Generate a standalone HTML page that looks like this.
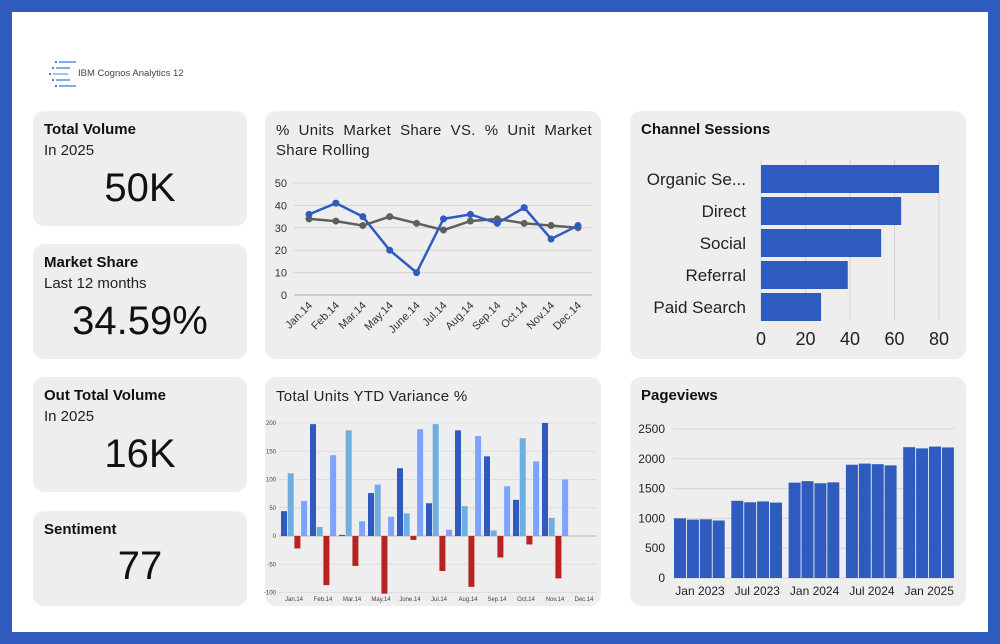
<!DOCTYPE html>
<html><head><meta charset="utf-8"><style>
body{margin:0;width:1000px;height:644px;overflow:hidden;background:#2f5bbf;font-family:"Liberation Sans",sans-serif}
#frame{position:absolute;left:12px;top:12px;width:976px;height:620px;background:#fff}
.card{position:absolute;background:#eeeeee;border-radius:11px}
.t{position:absolute;left:11px;top:10px;font-weight:bold;font-size:15px;color:#111}
.s{position:absolute;left:11px;top:31px;font-size:15px;color:#222}
.big{position:absolute;left:0;right:0;text-align:center;font-size:40px;color:#111;font-weight:300}
.ct{position:absolute;left:11px;top:10px;font-size:15px;color:#222;line-height:20px;letter-spacing:.3px}
#ov{position:absolute;left:0;top:0}
</style></head><body>
<div id="frame"></div>
<div style="position:absolute;left:48px;top:60px;width:150px;height:30px">
 <svg width="40" height="30" style="position:absolute;left:0;top:0">
  <circle cx="8" cy="2" r="1" fill="#2b4bb5"/><line x1="11" y1="2" x2="28" y2="2" stroke="#5a8de0" stroke-width="1.5"/>
  <circle cx="5" cy="8" r="1" fill="#2b4bb5"/><line x1="8" y1="8" x2="22" y2="8" stroke="#5a8de0" stroke-width="1.5"/>
  <circle cx="2" cy="14" r="1" fill="#2b4bb5"/><line x1="5" y1="14" x2="20" y2="14" stroke="#7ab0e0" stroke-width="1.5"/>
  <circle cx="5" cy="20" r="1" fill="#2b4bb5"/><line x1="8" y1="20" x2="22" y2="20" stroke="#5a8de0" stroke-width="1.5"/>
  <circle cx="8" cy="26" r="1" fill="#2b4bb5"/><line x1="11" y1="26" x2="28" y2="26" stroke="#5a8de0" stroke-width="1.5"/>
 </svg>
 <span style="position:absolute;left:30px;top:8px;font-size:9.5px;color:#444;white-space:nowrap">IBM Cognos Analytics 12</span>
</div>

<div class="card" style="left:33px;top:111px;width:214px;height:115px">
 <div class="t">Total Volume</div><div class="s">In 2025</div><div class="big" style="top:55px">50K</div></div>
<div class="card" style="left:33px;top:244px;width:214px;height:115px">
 <div class="t">Market Share</div><div class="s">Last 12 months</div><div class="big" style="top:55px">34.59%</div></div>
<div class="card" style="left:33px;top:377px;width:214px;height:115px">
 <div class="t">Out Total Volume</div><div class="s">In 2025</div><div class="big" style="top:55px">16K</div></div>
<div class="card" style="left:33px;top:511px;width:214px;height:95px">
 <div class="t">Sentiment</div><div class="big" style="top:33px">77</div></div>

<div class="card" style="left:265px;top:111px;width:336px;height:248px">
 <div class="ct" style="width:316px;text-align:justify;text-align-last:justify">% Units Market Share VS. % Unit Market</div>
 <div class="ct" style="top:30px">Share Rolling</div></div>
<div class="card" style="left:265px;top:377px;width:336px;height:229px">
 <div class="ct">Total Units YTD Variance %</div></div>
<div class="card" style="left:630px;top:111px;width:336px;height:248px">
 <div class="t">Channel Sessions</div></div>
<div class="card" style="left:630px;top:377px;width:336px;height:229px">
 <div class="t">Pageviews</div></div>

<svg id="ov" width="1000" height="644" font-family="Liberation Sans, sans-serif"></svg>
<script>
const lineCats=["Jan.14","Feb.14","Mar.14","May.14","June.14","Jul.14","Aug.14","Sep.14","Oct.14","Nov.14","Dec.14"];
const shareValues=[36,41,35,20,10,34,36,32,39,25,31];
const rollingValues=[34,33,31,35,32,29,33,34,32,31,30];
const lineTicks=[0,10,20,30,40,50];

const varCats=["Jan.14","Feb.14","Mar.14","May.14","June.14","Jul.14","Aug.14","Sep.14","Oct.14","Nov.14","Dec.14"];
const varA=[44,198,2,76,120,58,187,141,64,200,null];
const varB=[111,16,187,91,40,198,53,10,173,32,null];
const varC=[-22,-87,-53,-102,-7,-62,-90,-38,-15,-75,null];
const varD=[62,143,26,34,189,11,177,88,132,100,null];
const varTicks=[-100,-50,0,50,100,150,200];

const chanCats=["Organic Se...","Direct","Social","Referral","Paid Search"];
const chanValues=[80,63,54,39,27];
const chanTicks=[0,20,40,60,80];

const pvValues=[1000,980,985,965,1295,1270,1285,1265,1600,1625,1590,1605,1900,1920,1910,1890,2195,2175,2205,2190];
const pvLabels=["Jan 2023","Jul 2023","Jan 2024","Jul 2024","Jan 2025"];
const pvTicks=[0,500,1000,1500,2000,2500];

const svg=document.getElementById('ov');const NS="http://www.w3.org/2000/svg";
function mk(t,a,txt){const e=document.createElementNS(NS,t);for(const k in a)e.setAttribute(k,a[k]);if(txt!==undefined)e.textContent=txt;svg.appendChild(e);return e;}

// line chart
{const y=v=>295-v*(112/50), x=i=>309+i*26.9;
lineTicks.forEach(t=>{const g=mk('line',{x1:294,x2:592,y1:y(t),y2:y(t),stroke:t?'#d4d4d4':'#aaa','stroke-width':1});

const l=mk('text',{x:287,y:y(t)+4,'font-size':11,fill:'#333','text-anchor':'end'},t);
});
lineCats.forEach((c,i)=>{const l=mk('text',{x:x(i)+4,y:306,'font-size':11,fill:'#333','text-anchor':'end',transform:`rotate(-45 ${x(i)+4} 306)`},c);
});
[[rollingValues,'#5f5f5f','rolling-series'],[shareValues,'#2f5bbf','share-series']].forEach(([vals,col,nm])=>{
const p=mk('polyline',{points:vals.map((v,i)=>x(i)+','+y(v)).join(' '),fill:'none',stroke:col,'stroke-width':2.5});

vals.forEach((v,i)=>{const c=mk('circle',{cx:x(i),cy:y(v),r:3.5,fill:col});});});}

// variance chart
{const y=v=>536-v*0.565, gx=i=>281+i*29;
varTicks.forEach(t=>{const g=mk('line',{x1:279,x2:597,y1:y(t),y2:y(t),stroke:t?'#dedede':'#bbb','stroke-width':1});

const l=mk('text',{x:276,y:y(t)+2,'font-size':6,fill:'#444','text-anchor':'end'},t);
});
const ser=[[varA,'#2f5bbf',0],[varB,'#6faee0',6.7],[varC,'#b82222',13.4],[varD,'#7ca3ff',20.1]];
varCats.forEach((c,i)=>{ser.forEach(([arr,col,off])=>{const v=arr[i];if(v==null)return;
const b=mk('rect',{x:gx(i)+off,y:Math.min(y(v),y(0)),width:6,height:Math.abs(y(v)-y(0)),fill:col});
});
const l=mk('text',{x:gx(i)+13,y:601,'font-size':6,fill:'#444','text-anchor':'middle'},c);
});}

// channel sessions
{const x=v=>761+v*(178/80), y=i=>165+i*32;
chanTicks.forEach(t=>{const g=mk('line',{x1:x(t),x2:x(t),y1:160,y2:321,stroke:'#d4d4d4','stroke-width':1});

const l=mk('text',{x:x(t),y:345,'font-size':18,fill:'#222','text-anchor':'middle'},t);
});
chanCats.forEach((c,i)=>{const b=mk('rect',{x:x(0),y:y(i),width:x(chanValues[i])-x(0),height:28,fill:'#2f5bbf'});

const l=mk('text',{x:746,y:y(i)+20,'font-size':17,fill:'#222','text-anchor':'end'},c);
});}

// pageviews
{const y=v=>578-v*(149/2500), bx=i=>674+Math.floor(i/4)*57.3+(i%4)*12.9;
pvTicks.forEach(t=>{const g=mk('line',{x1:673,x2:954,y1:y(t),y2:y(t),stroke:'#d4d4d4','stroke-width':1});

const l=mk('text',{x:665,y:y(t)+4,'font-size':12,fill:'#222','text-anchor':'end'},t);
});
pvValues.forEach((v,i)=>{const b=mk('rect',{x:bx(i),y:y(v),width:12,height:y(0)-y(v),fill:'#2f5bbf'});
});
pvLabels.forEach((c,g)=>{const l=mk('text',{x:700+g*57.3,y:595,'font-size':12,fill:'#222','text-anchor':'middle'},c);
});}
</script>
</body></html>
